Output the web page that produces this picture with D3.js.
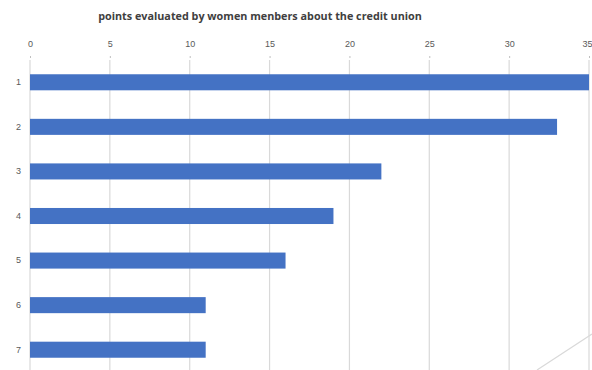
<!DOCTYPE html>
<html>
<head>
<meta charset="utf-8">
<script src="https://cdn.jsdelivr.net/npm/d3@7"></script>
<style>
  body { margin: 0; background: #fff; }
  svg { display: block; font-family: "Open Sans", "Liberation Sans", sans-serif; }
</style>
</head>
<body>
<svg id="chart" width="592" height="370"></svg>
<script>
// chart data
var categories = ["1", "2", "3", "4", "5", "6", "7"];
var values = [35, 33, 22, 19, 16, 11, 11];
var xTicks = [0, 5, 10, 15, 20, 25, 30, 35];
var title = "points evaluated by women menbers about the credit union";

var svg = d3.select("#chart");

var data = categories.map(function(c, i){ return {cat: c, value: values[i]}; });

var xScale = d3.scaleLinear().domain([0, 35]).range([30, 589]);
var yScale = d3.scaleBand().domain(categories).range([60, 372]).paddingInner(0.64).paddingOuter(0.32);

// gridlines
svg.append("g").selectAll("line.grid")
	.data(xTicks)
	.enter().append("line")
	.attr("class", "grid")
	.attr("x1", function(d){ return xScale(d); })
	.attr("x2", function(d){ return xScale(d); })
	.attr("y1", 60)
	.attr("y2", 370)
	.attr("stroke", "#d9d9d9")
	.attr("stroke-width", 1.2);

// top axis
var xAxis = d3.axisTop(xScale).tickValues(xTicks).tickSize(2).tickPadding(9);
var gx = svg.append("g")
	.attr("transform", "translate(0,58)")
	.call(xAxis);
gx.select(".domain").remove();
gx.selectAll(".tick line").attr("stroke", "#bfbfbf");
gx.selectAll(".tick text").attr("fill", "#595959").style("font-size", "9px");
// last label sits at the right edge; keep it inside the frame
gx.selectAll(".tick text").filter(function(d){ return d === 35; }).attr("text-anchor", "end").attr("dx", "3px");

// bars
svg.selectAll("rect.bar")
	.data(data)
	.enter().append("rect")
	.attr("class", "bar")
	.attr("x", xScale(0))
	.attr("y", function(d){ return yScale(d.cat); })
	.attr("width", function(d){ return xScale(d.value) - xScale(0); })
	.attr("height", yScale.bandwidth())
	.attr("fill", "#4472c4");

// left category labels
var gy = svg.append("g")
	.attr("transform", "translate(" + xScale(0) + ",0)")
	.call(d3.axisLeft(yScale).tickSize(0).tickPadding(9));
gy.select(".domain").remove();
gy.selectAll(".tick text").attr("fill", "#595959").style("font-size", "9px");

// title
svg.append("text")
	.attr("x", 260)
	.attr("y", 20)
	.attr("text-anchor", "middle")
	.attr("fill", "#404040")
	.style("font-size", "10.8px")
	.style("font-weight", "bold")
	.text(title);

// stray border line at bottom right
svg.append("line")
	.attr("x1", 537).attr("y1", 370)
	.attr("x2", 592).attr("y2", 334)
	.attr("stroke", "#d9d9d9")
	.attr("stroke-width", 1.2);
</script>
</body>
</html>
